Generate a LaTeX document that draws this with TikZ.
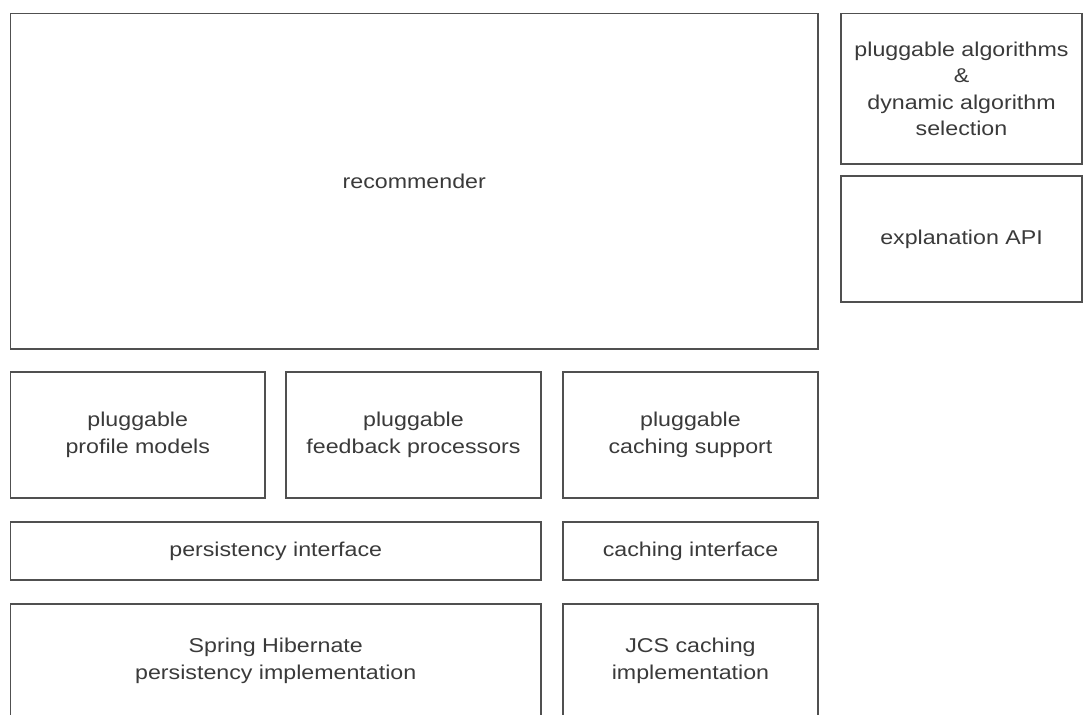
\documentclass[tikz,border=0pt]{standalone}
\usepackage{fontspec}
\setmainfont{Liberation Sans}[FakeStretch=1.16]
\definecolor{linec}{HTML}{505050}
\definecolor{textc}{HTML}{3A3A3A}
\begin{document}
\begin{tikzpicture}[x=1pt,y=-1pt,
  box/.style={draw=linec, line width=1.5pt, rectangle, inner sep=0pt, align=center,
    text=textc, font=\fontsize{20}{26.5}\selectfont}]
\useasboundingbox (0,0) rectangle (1083,714);
\clip (0,0) rectangle (1083,714);
\node[box, minimum width=807.5, minimum height=335.5] (rec) at (414.25,181.25) {recommender};
\node[box, minimum width=241, minimum height=150.5] (alg) at (961.5,88.75) {pluggable algorithms\\\&\\dynamic algorithm\\selection};
\node[box, minimum width=241, minimum height=126] (expl) at (961.5,239) {explanation API};
\node[box, minimum width=254.5, minimum height=126] (prof) at (137.75,435) {pluggable\\profile models};
\node[box, minimum width=255, minimum height=126] (feed) at (413.5,435) {pluggable\\feedback processors};
\node[box, minimum width=255, minimum height=126] (csup) at (690.5,435) {pluggable\\caching support};
\node[box, minimum width=530.5, minimum height=58] (pint) at (275.75,551) {persistency interface};
\node[box, minimum width=255, minimum height=58] (cint) at (690.5,551) {caching interface};
\node[box, minimum width=530.5, minimum height=114] (spring) at (275.75,661) {Spring Hibernate\\persistency implementation};
\node[box, minimum width=255, minimum height=114] (jcs) at (690.5,661) {JCS caching\\implementation};
\end{tikzpicture}
\end{document}
